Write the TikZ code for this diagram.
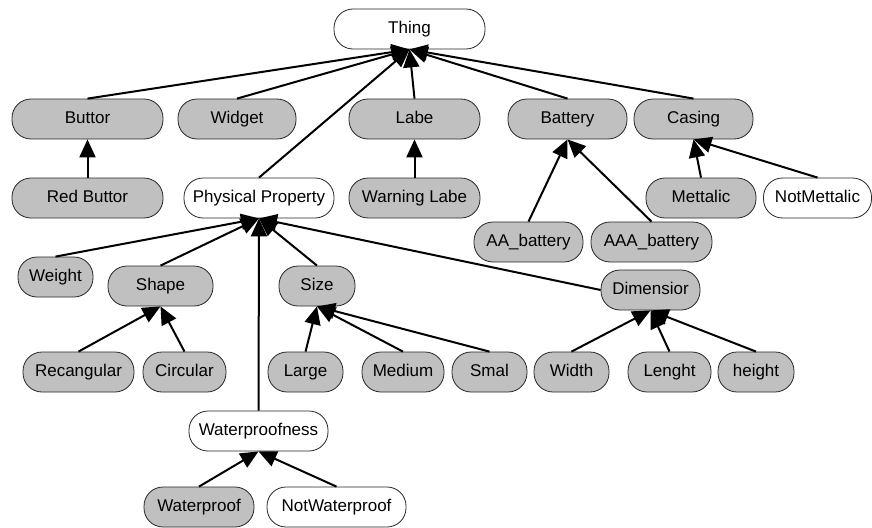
\documentclass[tikz,border=0pt]{standalone}
\usepackage{fontspec}
\setmainfont{Liberation Sans}
\usetikzlibrary{arrows.meta}
\definecolor{classgray}{RGB}{192,192,192}
\tikzset{
  cls/.style={draw=black!85, line width=0.8pt, rounded corners=19pt, minimum height=40pt,
    inner sep=0pt, text height=12pt, text depth=3pt, font=\fontsize{17}{20}\selectfont},
  isa/.style={line width=2pt, -{Triangle[length=18pt,width=16pt]}}
}
\begin{document}
\begin{tikzpicture}[x=1pt,y=-1pt]
	\useasboundingbox (0,0) rectangle (872,527);
	\foreach \n/\x/\y/\w/\t in {button/87.5/119/151/Buttor, widget/237/119/118/Widget,
		label/414.5/119/131/Labe, battery/567.5/119/119/Battery, casing/693.5/119/119/Casing,
		redbutton/87.5/198/151/Red Buttor, warnlabel/414.5/198/131/Warning Labe,
		metallic/701/198/110/Mettalic, aa/528.5/242/109/AA\_battery, aaa/651.5/242/121/AAA\_battery,
		weight/55.5/277/75/Weight, shape/160.5/286/105/Shape, size/317/286/76/Size,
		dimension/650.5/290/99/Dimensior, rect/78.5/372/111/Recangular, circ/184.5/372/83/Circular,
		large/305.5/372/75/Large, medium/403/372/82/Medium, small/489.5/372/75/Smal,
		width/571.5/372/75/Width, length/669.5/372/83/Lenght, height/756/372/76/height,
		waterproof/199/507/110/Waterproof}{
			\node[cls, fill=classgray, minimum width=\w] (\n) at (\x,\y) {\t};
		}
	\foreach \n/\x/\y/\w/\t in {thing/409.5/29/151/Thing, physprop/259/198/150/Physical Property,
		notmetallic/817.5/198/108/NotMettalic, waterness/258.5/431/139/Waterproofness,
		notwaterproof/336.5/507/139/NotWaterproof}{
			\node[cls, fill=white, minimum width=\w] (\n) at (\x,\y) {\t};
		}
	\foreach \c/\p in {button/thing, widget/thing, physprop/thing, label/thing, battery/thing,
		casing/thing, redbutton/button, warnlabel/label, aa/battery, aaa/battery,
		metallic/casing, notmetallic/casing, weight/physprop, shape/physprop, size/physprop,
		waterness/physprop, rect/shape, circ/shape, large/size, medium/size, small/size,
		width/dimension, length/dimension, height/dimension, waterproof/waterness,
		notwaterproof/waterness}{
			\draw[isa] (\c.north) -- (\p.south);
		}
	\draw[isa] (dimension.west) -- (physprop.south);
\end{tikzpicture}
\end{document}
